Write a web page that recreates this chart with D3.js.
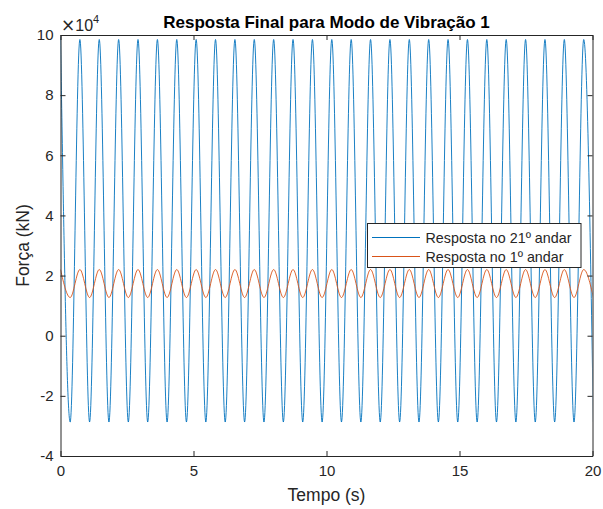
<!DOCTYPE html>
<html>
<head>
<meta charset="utf-8">
<script src="https://cdn.jsdelivr.net/npm/d3@7"></script>
<style>
  body { margin: 0; background: #fff; }
  text { font-family: "Liberation Sans", Arial, Helvetica, sans-serif; fill: #262626; }
</style>
</head>
<body>
<div id="chart"></div>
<script>
// extrema (peaks and troughs alternate)
const tempo = [0, 0.364, 0.729, 1.093, 1.457, 1.821, 2.186, 2.55, 2.914, 3.278,
  3.643, 4.007, 4.371, 4.735, 5.1, 5.464, 5.828, 6.192, 6.557, 6.921,
  7.285, 7.649, 8.014, 8.378, 8.742, 9.106, 9.471, 9.835, 10.199, 10.563,
  10.928, 11.292, 11.656, 12.02, 12.385, 12.749, 13.113, 13.477, 13.842, 14.206,
  14.57, 14.934, 15.299, 15.663, 16.027, 16.391, 16.756, 17.12, 17.484, 17.848,
  18.213, 18.577, 18.941, 19.305, 19.67, 20.034];

const resposta21 = [99500, -28700, 98500, -28700, 98500, -28700, 98500, -28700, 98500, -28700,
  98500, -28700, 98500, -28700, 98500, -28700, 98500, -28700, 98500, -28700,
  98500, -28700, 98500, -28700, 98500, -28700, 98500, -28700, 98500, -28700,
  98500, -28700, 98500, -28700, 98500, -28700, 98500, -28700, 98500, -28700,
  98500, -28700, 98500, -28700, 98500, -28700, 98500, -28700, 98500, -28700,
  98500, -28700, 98500, -28700, 98500, -28700];

const resposta1 = [22000, 12700, 22000, 12700, 22000, 12700, 22000, 12700, 22000, 12700,
  22000, 12700, 22000, 12700, 22000, 12700, 22000, 12700, 22000, 12700,
  22000, 12700, 22000, 12700, 22000, 12700, 22000, 12700, 22000, 12700,
  22000, 12700, 22000, 12700, 22000, 12700, 22000, 12700, 22000, 12700,
  22000, 12700, 22000, 12700, 22000, 12700, 22000, 12700, 22000, 12700,
  22000, 12700, 22000, 12700, 22000, 12700];

const xTicks = [0, 5, 10, 15, 20];
const yTicks = [-40000, -20000, 0, 20000, 40000, 60000, 80000, 100000];
const seriesNames = ["Resposta no 21º andar", "Resposta no 1º andar"];
const seriesColors = ["#0072BD", "#D95319"];

const width = 603, height = 509;
const plotLeft = 60.5, plotRight = 592.5, plotTop = 35, plotBottom = 456;

const svg = d3.select("#chart").append("svg")
  .attr("width", width)
  .attr("height", height);

const x = d3.scaleLinear().domain([0, 20]).range([plotLeft, plotRight]);
const y = d3.scaleLinear().domain([-40000, 100000]).range([plotBottom, plotTop]);

svg.append("clipPath").attr("id", "plotClip")
  .append("rect")
  .attr("x", plotLeft).attr("y", plotTop)
  .attr("width", plotRight - plotLeft).attr("height", plotBottom - plotTop);

const line = d3.line()
  .x((d) => x(d.t))
  .y((d) => y(d.v))
  .curve(d3.curveMonotoneX);

[resposta21, resposta1].forEach((vals, i) => {
  const pts = tempo.map((t, j) => ({ t: t, v: vals[j] }));
  svg.append("path")
    .datum(pts)
    .attr("clip-path", "url(#plotClip)")
    .attr("fill", "none")
    .attr("stroke", seriesColors[i])
    .attr("stroke-width", 0.9)
    .attr("d", line);
});

// axes, ticks pointing inward (box on)
const axisStyle = (g) => {
  g.selectAll(".domain").attr("stroke", "#262626");
  g.selectAll(".tick line").attr("stroke", "#262626");
  g.selectAll(".tick text").attr("fill", "#262626")
    .style("font-size", "15px")
    .style("font-family", "'Liberation Sans', Arial, sans-serif");
};

svg.append("g")
  .attr("transform", `translate(0,${plotBottom})`)
  .call(d3.axisBottom(x).tickValues(xTicks).tickSize(-5).tickSizeOuter(0).tickPadding(9))
  .call(axisStyle);

svg.append("g")
  .attr("transform", `translate(0,${plotTop})`)
  .call(d3.axisTop(x).tickValues(xTicks).tickSize(-5).tickSizeOuter(0).tickFormat(""))
  .call(axisStyle);

svg.append("g")
  .attr("transform", `translate(${plotLeft},0)`)
  .call(d3.axisLeft(y).tickValues(yTicks).tickSize(-5).tickSizeOuter(0).tickPadding(7)
    .tickFormat((d) => String(d / 10000)))
  .call(axisStyle);

svg.append("g")
  .attr("transform", `translate(${plotRight},0)`)
  .call(d3.axisRight(y).tickValues(yTicks).tickSize(-5).tickSizeOuter(0).tickFormat(""))
  .call(axisStyle);

// exponent label
const expo = svg.append("text")
  .attr("x", 61)
  .attr("y", 31)
  .style("font-size", "16px");
expo.append("tspan").style("font-family", "'DejaVu Sans', sans-serif").style("font-size", "17px").text("×");
expo.append("tspan").text("10");
expo.append("tspan").attr("dy", -8).style("font-size", "11px").text("4");

// title and axis labels
svg.append("text")
  .attr("x", (plotLeft + plotRight) / 2)
  .attr("y", 28)
  .attr("text-anchor", "middle")
  .style("font-size", "17px")
  .style("font-weight", "bold")
  .style("fill", "#000")
  .text("Resposta Final para Modo de Vibração 1");

svg.append("text")
  .attr("x", (plotLeft + plotRight) / 2)
  .attr("y", 501)
  .attr("text-anchor", "middle")
  .style("font-size", "17.5px")
  .text("Tempo (s)");

svg.append("text")
  .attr("transform", `translate(29,${(plotTop + plotBottom) / 2}) rotate(-90)`)
  .attr("text-anchor", "middle")
  .style("font-size", "17.5px")
  .text("Força (kN)");

// legend
const legend = svg.append("g").attr("transform", "translate(367.5,223.5)");
legend.append("rect")
  .attr("width", 213.5)
  .attr("height", 44)
  .attr("fill", "#fff")
  .attr("stroke", "#262626")
  .attr("stroke-width", 1);

seriesNames.forEach((name, i) => {
  const yy = 14 + i * 19;
  legend.append("line")
    .attr("x1", 4.5).attr("x2", 52.5)
    .attr("y1", yy).attr("y2", yy)
    .attr("stroke", seriesColors[i])
    .attr("stroke-width", 1);
  legend.append("text")
    .attr("x", 58)
    .attr("y", yy + 5)
    .style("font-size", "14.3px")
    .text(name);
});
</script>
</body>
</html>
